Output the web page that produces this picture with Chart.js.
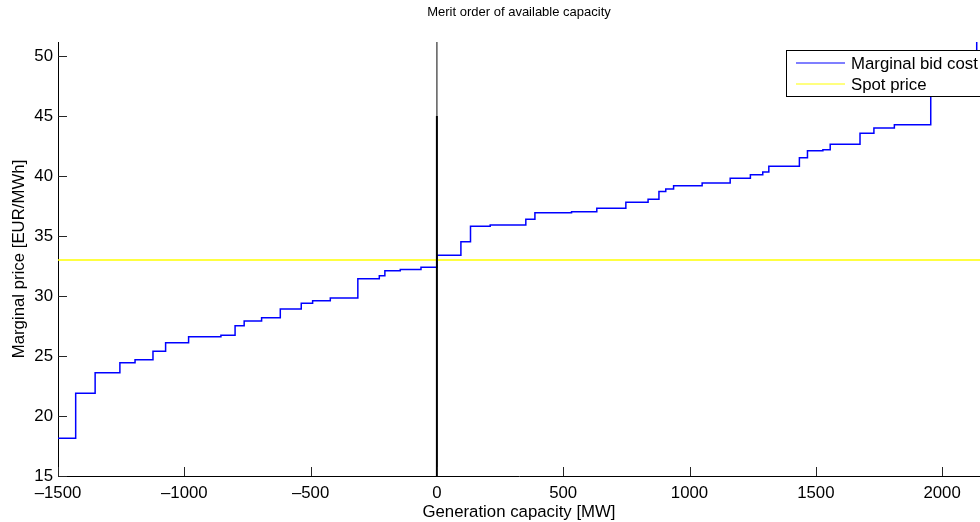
<!DOCTYPE html>
<html>
<head>
<meta charset="utf-8">
<title>Merit order of available capacity</title>
<script src="https://cdn.jsdelivr.net/npm/chart.js@4.4.1/dist/chart.umd.min.js"></script>
<style>
  html, body { margin: 0; padding: 0; background: #fff; }
  #wrap { width: 980px; height: 522px; position: relative; }
</style>
</head>
<body>
<div id="wrap"><canvas id="merit"></canvas></div>
<script>
// Merit order: each bid block starts at stepStartMW[i] and holds bidCost[i] until the next start.
const stepStartMW = [-1500, -1430, -1353, -1255, -1195, -1124, -1074, -983, -855, -799,
  -763, -694, -620, -537, -492, -422, -313, -228, -206, -145,
  -63, 0, 95, 133, 211, 352, 388, 533, 633, 748,
  836, 879, 906, 937, 1050, 1161, 1241, 1290, 1314, 1435,
  1467, 1528, 1557, 1675, 1730, 1811, 1955, 2137];
const bidCost = [18.14, 21.89, 23.61, 24.44, 24.69, 25.39, 26.11, 26.61, 26.72, 27.53,
  27.92, 28.19, 28.92, 29.39, 29.61, 29.83, 31.44, 31.69, 32.11, 32.22,
  32.39, 33.4, 34.53, 35.81, 35.92, 36.39, 36.94, 37.03, 37.31, 37.81,
  38.06, 38.72, 38.92, 39.19, 39.42, 39.81, 40.11, 40.33, 40.81, 41.53,
  42.11, 42.19, 42.64, 43.56, 44.0, 44.28, 48.5, 56];

const spotPrice = 33;
const demandMW = 0;
const demandTop = 45;

const xMin = -1500;
const xMax = 2150;
const yMin = 15;
const yMax = 51.17;
const xTickValues = [-1500, -1000, -500, 0, 500, 1000, 1500, 2000];
const yTickValues = [15, 20, 25, 30, 35, 40, 45, 50];

const FONT = "'Liberation Sans', Arial, Helvetica, sans-serif";
const FONT_SIZE = 16.8;
const TITLE_SIZE = 13;

const bidPoints = stepStartMW.map((x, i) => ({ x, y: bidCost[i] }));
bidPoints.push({ x: xMax, y: bidCost[bidCost.length - 1] });

const dashLabel = (value) => (value < 0 ? "\u2013" + Math.abs(value) : String(value));

// Inward tick marks, as MATLAB draws them
const tickMarks = {
  id: "tickMarks",
  afterDatasetsDraw(chart) {
    const { ctx, chartArea, scales } = chart;
    ctx.save();
    ctx.strokeStyle = "#262626";
    ctx.lineWidth = 1;
    ctx.beginPath();
    scales.x.ticks.forEach((tick) => {
      const px = Math.round(scales.x.getPixelForValue(tick.value)) + 0.5;
      ctx.moveTo(px, chartArea.bottom);
      ctx.lineTo(px, chartArea.bottom - 9);
    });
    scales.y.ticks.forEach((tick) => {
      const py = Math.round(scales.y.getPixelForValue(tick.value)) + 0.5;
      ctx.moveTo(chartArea.left, py);
      ctx.lineTo(chartArea.left + 9, py);
    });
    ctx.stroke();
    ctx.restore();
  }
};

// Boxed legend in the upper right corner
const boxedLegend = {
  id: "boxedLegend",
  afterDraw(chart) {
    const { ctx } = chart;
    const items = chart.data.datasets
      .filter((ds) => ds.legendRow !== undefined)
      .sort((a, b) => a.legendRow - b.legendRow);
    const left = 786.5, top = 50.5, rowGap = 21;
    ctx.save();
    ctx.fillStyle = "#fff";
    ctx.strokeStyle = "#000";
    ctx.lineWidth = 1;
    ctx.fillRect(left, top, 260, 46);
    ctx.strokeRect(left, top, 260, 46);
    ctx.font = FONT_SIZE + "px " + FONT;
    ctx.textBaseline = "middle";
    ctx.textAlign = "left";
    items.forEach((ds, i) => {
      const y = top + 12.5 + i * rowGap;
      ctx.strokeStyle = ds.borderColor;
      ctx.lineWidth = 1.2;
      ctx.beginPath();
      ctx.moveTo(796, y);
      ctx.lineTo(845, y);
      ctx.stroke();
      ctx.fillStyle = "#000";
      ctx.fillText(ds.label, 851, y + 1);
    });
    ctx.restore();
  }
};

new Chart(document.getElementById("merit"), {
  type: "line",
  data: {
    datasets: [
      {
        label: "Demand",
        data: [{ x: demandMW, y: yMin }, { x: demandMW, y: demandTop }],
        borderColor: "#000",
        borderWidth: 2,
        pointRadius: 0
      },
      {
        label: "Demand upper",
        data: [{ x: demandMW, y: demandTop }, { x: demandMW, y: yMax }],
        borderColor: "#333",
        borderWidth: 1.2,
        pointRadius: 0
      },
      {
        label: "Spot price",
        legendRow: 1,
        data: [{ x: xMin, y: spotPrice }, { x: xMax, y: spotPrice }],
        borderColor: "#ffff00",
        borderWidth: 1.6,
        pointRadius: 0
      },
      {
        label: "Marginal bid cost",
        legendRow: 0,
        data: bidPoints,
        borderColor: "#0000ff",
        borderWidth: 1.5,
        stepped: "before",
        pointRadius: 0
      }
    ]
  },
  options: {
    responsive: true,
    maintainAspectRatio: false,
    animation: false,
    devicePixelRatio: 1,
    layout: { padding: 0 },
    plugins: {
      legend: { display: false },
      tooltip: { enabled: false },
      title: {
        display: true,
        text: "Merit order of available capacity",
        fullSize: false,
        color: "#000",
        font: { family: FONT, size: TITLE_SIZE, weight: "normal" },
        padding: { top: 4.2, bottom: 22.2 }
      }
    },
    scales: {
      x: {
        type: "linear",
        position: "bottom",
        min: xMin,
        max: xMax,
        grid: { display: false, drawTicks: false },
        border: { display: true, color: "#000", width: 1 },
        afterBuildTicks: (scale) => { scale.ticks = xTickValues.map((value) => ({ value })); },
        ticks: {
          autoSkip: false,
          maxRotation: 0,
          padding: 7,
          color: "#000",
          font: { family: FONT, size: FONT_SIZE },
          callback: dashLabel
        },
        title: {
          display: true,
          text: "Generation capacity [MW]",
          color: "#000",
          font: { family: FONT, size: FONT_SIZE },
          padding: { top: 0, bottom: 0 }
        },
        afterFit: (scale) => { scale.height = 46; }
      },
      y: {
        type: "linear",
        min: yMin,
        max: yMax,
        grid: { display: false, drawTicks: false },
        border: { display: true, color: "#000", width: 1 },
        afterBuildTicks: (scale) => { scale.ticks = yTickValues.map((value) => ({ value })); },
        ticks: {
          autoSkip: false,
          padding: 5,
          color: "#000",
          font: { family: FONT, size: FONT_SIZE }
        },
        title: {
          display: true,
          text: "Marginal price [EUR/MWh]",
          color: "#000",
          font: { family: FONT, size: FONT_SIZE },
          padding: { top: 9, bottom: 0 }
        },
        afterFit: (scale) => { scale.width = 58; }
      }
    }
  },
  plugins: [tickMarks, boxedLegend]
});
</script>
</body>
</html>
